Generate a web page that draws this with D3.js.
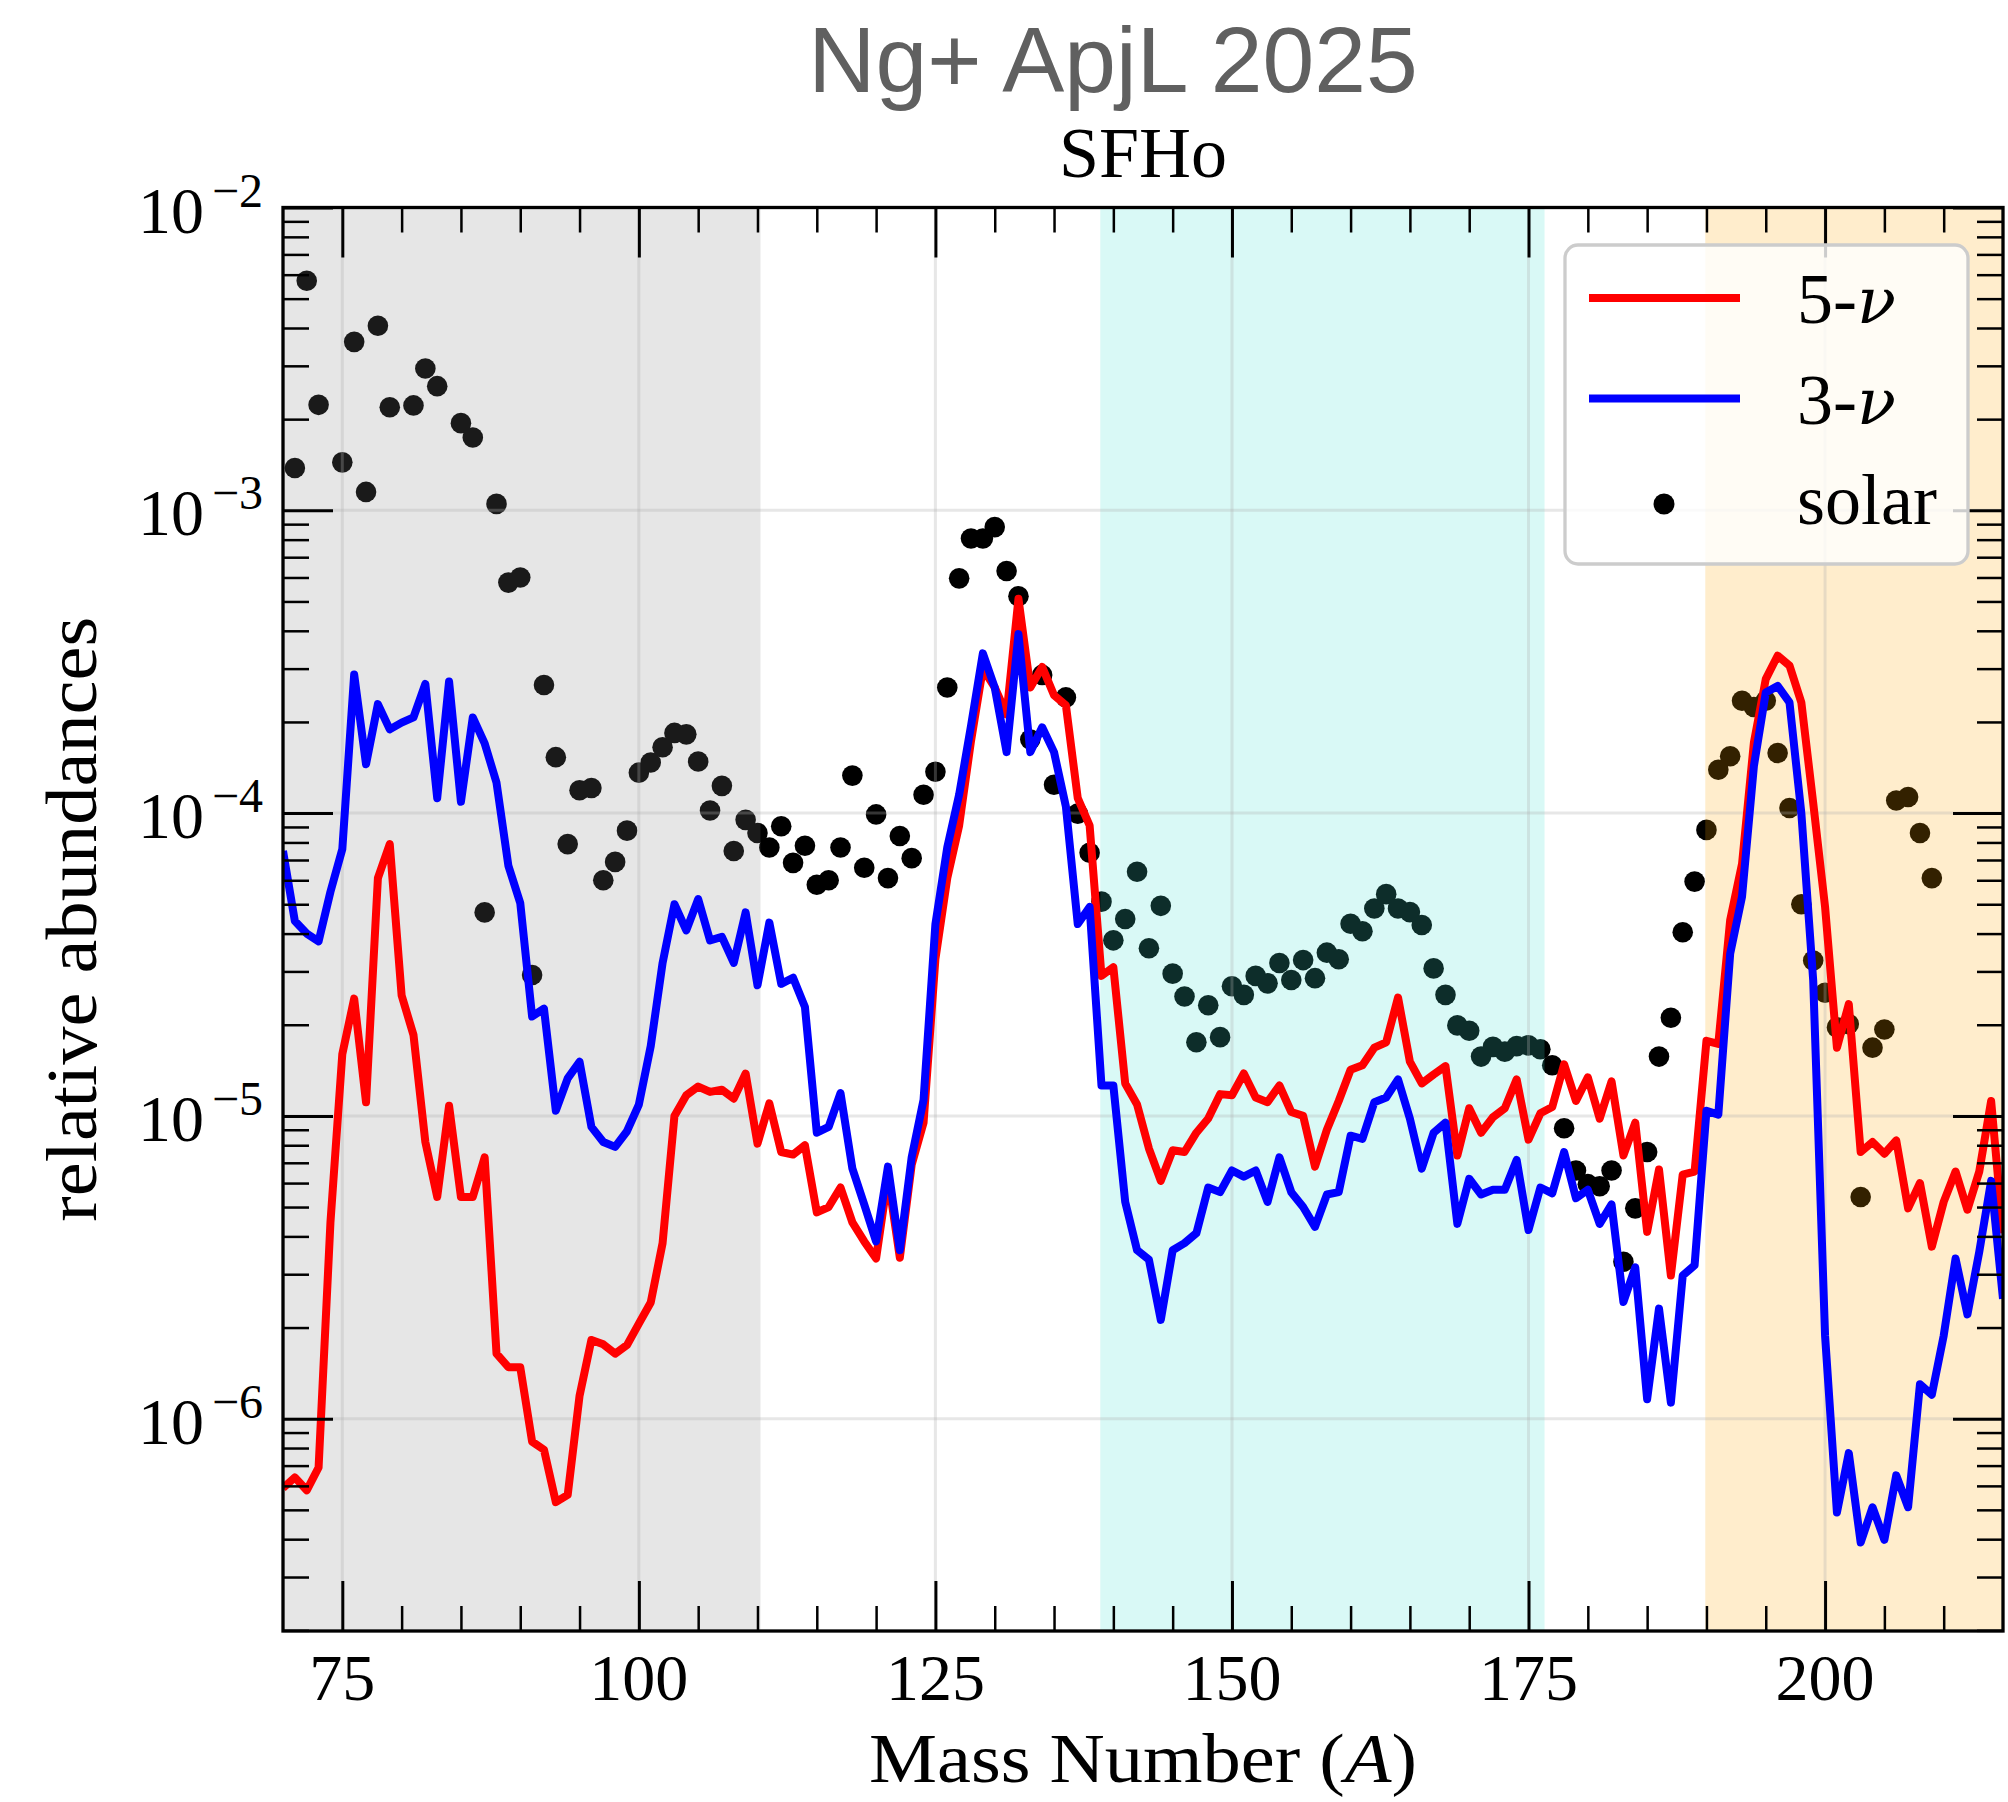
<!DOCTYPE html>
<html>
<head>
<meta charset="utf-8">
<script src="https://cdn.jsdelivr.net/npm/d3@7"></script>
<style>
  html, body { margin: 0; padding: 0; background: #fff; }
  svg text { font-family: "Liberation Serif", "DejaVu Serif", serif; fill: #000; }
</style>
</head>
<body>
<script>
// mass numbers of the two model curves (one point per A)
const massNumbers = d3.range(70, 216);

// 5-nu model, A = 70..215
const fiveNu = [
    5.9e-7, 6.4e-7, 5.8e-7, 6.9e-7, 4.45e-6, 1.60e-5, 2.44e-5, 1.11e-5, 6.1e-5, 7.9e-5,
    2.5e-5, 1.85e-5, 8.2e-6, 5.4e-6, 1.08e-5, 5.4e-6, 5.4e-6, 7.3e-6, 1.64e-6, 1.48e-6,
    1.48e-6, 8.4e-7, 7.9e-7, 5.3e-7, 5.6e-7, 1.19e-6, 1.82e-6, 1.76e-6, 1.64e-6, 1.75e-6,
    2.06e-6, 2.42e-6, 3.8e-6, 1.0e-5, 1.17e-5, 1.25e-5, 1.20e-5, 1.22e-5, 1.14e-5, 1.38e-5,
    8.1e-6, 1.10e-5, 7.6e-6, 7.45e-6, 8.0e-6, 4.8e-6, 5.0e-6, 5.8e-6, 4.45e-6, 3.85e-6,
    3.38e-6, 6.3e-6, 3.4e-6, 6.9e-6, 9.5e-6, 3.3e-5, 6.1e-5, 9.1e-5, 1.73e-4, 3.0e-4,
    2.6e-4, 2.12e-4, 5.1e-4, 2.6e-4, 3.04e-4, 2.45e-4, 2.27e-4, 1.12e-4, 9.1e-5, 2.9e-5,
    3.1e-5, 1.28e-5, 1.09e-5, 7.8e-6, 6.1e-6, 7.7e-6, 7.6e-6, 8.8e-6, 9.8e-6, 1.18e-5,
    1.17e-5, 1.38e-5, 1.15e-5, 1.11e-5, 1.26e-5, 1.03e-5, 1.0e-5, 6.8e-6, 9.0e-6, 1.12e-5,
    1.42e-5, 1.47e-5, 1.68e-5, 1.75e-5, 2.46e-5, 1.51e-5, 1.28e-5, 1.37e-5, 1.46e-5, 7.4e-6,
    1.06e-5, 8.8e-6, 9.9e-6, 1.06e-5, 1.32e-5, 8.35e-6, 1.02e-5, 1.07e-5, 1.48e-5, 1.12e-5,
    1.34e-5, 9.8e-6, 1.30e-5, 7.4e-6, 9.5e-6, 4.14e-6, 6.65e-6, 2.97e-6, 6.4e-6, 6.55e-6,
    1.77e-5, 1.73e-5, 4.43e-5, 6.8e-5, 1.71e-4, 2.77e-4, 3.31e-4, 3.07e-4, 2.32e-4, 1.08e-4,
    4.9e-5, 1.68e-5, 2.34e-5, 7.6e-6, 8.2e-6, 7.5e-6, 8.3e-6, 4.95e-6, 6.0e-6, 3.7e-6,
    5.2e-6, 6.55e-6, 4.9e-6, 6.55e-6, 1.12e-5, 4.1e-6
];

// 3-nu model, A = 70..215
const threeNu = [
    7.5e-5, 4.4e-5, 4.0e-5, 3.77e-5, 5.5e-5, 7.6e-5, 2.87e-4, 1.45e-4, 2.29e-4, 1.89e-4,
    1.99e-4, 2.07e-4, 2.67e-4, 1.12e-4, 2.72e-4, 1.09e-4, 2.07e-4, 1.70e-4, 1.26e-4, 6.7e-5,
    5.05e-5, 2.13e-5, 2.26e-5, 1.04e-5, 1.33e-5, 1.51e-5, 9.2e-6, 8.2e-6, 7.9e-6, 8.9e-6,
    1.09e-5, 1.70e-5, 3.2e-5, 5.0e-5, 4.1e-5, 5.2e-5, 3.8e-5, 3.9e-5, 3.2e-5, 4.7e-5,
    2.7e-5, 4.35e-5, 2.73e-5, 2.86e-5, 2.29e-5, 8.8e-6, 9.2e-6, 1.19e-5, 6.7e-6, 5.1e-6,
    3.85e-6, 6.8e-6, 3.6e-6, 7.3e-6, 1.13e-5, 4.3e-5, 7.7e-5, 1.15e-4, 1.94e-4, 3.37e-4,
    2.6e-4, 1.59e-4, 3.9e-4, 1.59e-4, 1.92e-4, 1.59e-4, 1.05e-4, 4.3e-5, 4.9e-5, 1.26e-5,
    1.26e-5, 5.2e-6, 3.6e-6, 3.35e-6, 2.12e-6, 3.6e-6, 3.8e-6, 4.1e-6, 5.8e-6, 5.6e-6,
    6.6e-6, 6.3e-6, 6.6e-6, 5.2e-6, 7.3e-6, 5.6e-6, 5.0e-6, 4.3e-6, 5.5e-6, 5.6e-6,
    8.6e-6, 8.4e-6, 1.11e-5, 1.15e-5, 1.32e-5, 9.8e-6, 6.7e-6, 8.8e-6, 9.5e-6, 4.4e-6,
    6.2e-6, 5.5e-6, 5.7e-6, 5.7e-6, 7.15e-6, 4.2e-6, 5.8e-6, 5.55e-6, 7.6e-6, 5.35e-6,
    5.7e-6, 4.4e-6, 5.1e-6, 2.43e-6, 3.16e-6, 1.16e-6, 2.31e-6, 1.13e-6, 2.97e-6, 3.21e-6,
    1.04e-5, 1.01e-5, 3.43e-5, 5.3e-5, 1.43e-4, 2.50e-4, 2.63e-4, 2.32e-4, 1.0e-4, 2.8e-5,
    1.88e-6, 4.9e-7, 7.7e-7, 3.9e-7, 5.1e-7, 3.98e-7, 6.5e-7, 5.1e-7, 1.30e-6, 1.20e-6,
    1.88e-6, 3.38e-6, 2.21e-6, 3.56e-6, 6.1e-6, 2.49e-6
];

// solar r-process abundances (not every A has a point)
const solarA = [71, 72, 73, 75, 76, 77, 78, 79, 81, 82, 83].concat(d3.range(85, 210));
const solarValues = [
    1.38e-3, 5.73e-3, 2.23e-3, 1.44e-3, 3.6e-3, 1.15e-3, 4.07e-3, 2.19e-3, 2.22e-3, 2.94e-3, 2.57e-3,
    1.94e-3, 1.74e-3, 4.7e-5, 1.05e-3, 5.77e-4, 6.0e-4, 2.92e-5, 2.65e-4, 1.53e-4, 7.9e-5,
    1.19e-4, 1.21e-4, 6.0e-5, 6.9e-5, 8.75e-5, 1.36e-4, 1.47e-4, 1.65e-4, 1.84e-4, 1.82e-4,
    1.48e-4, 1.02e-4, 1.23e-4, 7.5e-5, 9.5e-5, 8.6e-5, 7.7e-5, 9.05e-5, 6.85e-5, 7.8e-5,
    5.8e-5, 6.0e-5, 7.7e-5, 1.33e-4, 6.6e-5, 9.9e-5, 6.1e-5, 8.4e-5, 7.1e-5, 1.15e-4,
    1.37e-4, 2.6e-4, 5.96e-4, 8.07e-4, 8.07e-4, 8.8e-4, 6.3e-4, 5.2e-4, 1.75e-4, 2.86e-4,
    1.24e-4, 2.41e-4, 9.96e-5, 7.4e-5, 5.1e-5, 3.8e-5, 4.47e-5, 6.4e-5, 3.58e-5, 4.94e-5,
    2.95e-5, 2.48e-5, 1.75e-5, 2.32e-5, 1.82e-5, 2.68e-5, 2.51e-5, 2.9e-5, 2.74e-5, 3.2e-5,
    2.81e-5, 3.27e-5, 2.85e-5, 3.46e-5, 3.29e-5, 4.31e-5, 4.07e-5, 4.84e-5, 5.4e-5, 4.84e-5,
    4.71e-5, 4.27e-5, 3.07e-5, 2.51e-5, 1.99e-5, 1.91e-5, 1.57e-5, 1.69e-5, 1.63e-5, 1.70e-5,
    1.71e-5, 1.66e-5, 1.47e-5, 9.1e-6, 6.6e-6, 5.95e-6, 5.86e-6, 6.6e-6, 3.3e-6, 4.95e-6,
    7.6e-6, 1.57e-5, 2.11e-5, 4.04e-5, 5.94e-5, 8.8e-5, 1.39e-4, 1.54e-4, 2.35e-4, 2.24e-4,
    2.35e-4, 1.58e-4, 1.04e-4, 5.0e-5, 3.26e-5, 2.55e-5, 1.96e-5, 2.01e-5, 5.4e-6, 1.68e-5,
    1.93e-5, 1.10e-4, 1.13e-4, 8.6e-5, 6.1e-5
];

// shaded mass ranges
const regionStart = [70, 138.9, 189.9];
const regionEnd = [110.25, 176.35, 215];

const xTicks = [75, 100, 125, 150, 175, 200];
const yTicks = [1e-6, 1e-5, 1e-4, 1e-3, 1e-2];
const yTickExponents = ['\u22126', '\u22125', '\u22124', '\u22123', '\u22122'];

const legendLabels = ['5-', '3-', 'solar'];

const width = 2008;
const height = 1802;
const plot = {left: 283, right: 2003, top: 207.5, bottom: 1631};

const regionColors = ['#808080', '#40e0d0', '#ffa500'];
const lineWidth = 8;

const svg = d3.select('body').append('svg')
    .attr('width', width)
    .attr('height', height)
    .style('display', 'block');

svg.append('rect').attr('width', width).attr('height', height).attr('fill', '#fff');

const x = d3.scaleLinear()
    .domain([70, 215])
    .range([plot.left, plot.right]);

const y = d3.scaleLog()
    .domain([1.99e-7, 1e-2])
    .range([plot.bottom, plot.top]);

svg.append('clipPath').attr('id', 'plot-clip')
  .append('rect')
    .attr('x', plot.left).attr('y', plot.top)
    .attr('width', plot.right - plot.left)
    .attr('height', plot.bottom - plot.top);

const inner = svg.append('g').attr('clip-path', 'url(#plot-clip)');

// solar dots sit under the shaded spans
inner.append('g')
    .selectAll('circle')
    .data(solarA)
    .join('circle')
        .attr('cx', d => x(d))
        .attr('cy', (d, i) => y(solarValues[i]))
        .attr('r', 10.3)
        .attr('fill', '#000');

inner.append('g')
    .selectAll('rect')
    .data(regionStart)
    .join('rect')
        .attr('x', d => x(d))
        .attr('y', plot.top)
        .attr('width', (d, i) => x(regionEnd[i]) - x(d))
        .attr('height', plot.bottom - plot.top)
        .attr('fill', (d, i) => regionColors[i])
        .attr('fill-opacity', 0.2);

// grid at the major ticks
const grid = inner.append('g')
    .attr('stroke', '#b0b0b0')
    .attr('stroke-opacity', 0.3)
    .attr('stroke-width', 3);
grid.selectAll('.gx').data(xTicks).join('line').attr('class', 'gx')
    .attr('x1', d => x(d)).attr('x2', d => x(d))
    .attr('y1', plot.top).attr('y2', plot.bottom);
grid.selectAll('.gy').data(yTicks.slice(0, -1)).join('line').attr('class', 'gy')
    .attr('x1', plot.left).attr('x2', plot.right)
    .attr('y1', d => y(d)).attr('y2', d => y(d));

const line = d3.line()
    .x((d, i) => x(massNumbers[i]))
    .y(d => y(d));

inner.append('path')
    .datum(fiveNu)
    .attr('d', line)
    .attr('fill', 'none')
    .attr('stroke', '#ff0000')
    .attr('stroke-width', lineWidth)
    .attr('stroke-linejoin', 'round');

inner.append('path')
    .datum(threeNu)
    .attr('d', line)
    .attr('fill', 'none')
    .attr('stroke', '#0000ff')
    .attr('stroke-width', lineWidth)
    .attr('stroke-linejoin', 'round');

// ticks, inward on all four sides
const xMinor = d3.range(75, 215, 5).filter(v => v % 25 !== 0);
const yMinor = [];
for (let k = -7; k <= -3; k++) {
    for (let m = 2; m <= 9; m++) {
        const v = m * Math.pow(10, k);
        if (v > y.domain()[0] && v < y.domain()[1]) yMinor.push(v);
    }
}

function styleAxis(g, w) {
    g.attr('color', '#000');
    g.select('.domain').remove();
    g.selectAll('.tick line').attr('stroke-width', w);
    g.selectAll('.tick text').remove();
}

svg.append('g').attr('transform', `translate(0,${plot.bottom})`)
    .call(d3.axisBottom(x).tickValues(xTicks).tickSize(-50)).call(g => styleAxis(g, 3));
svg.append('g').attr('transform', `translate(0,${plot.bottom})`)
    .call(d3.axisBottom(x).tickValues(xMinor).tickSize(-25)).call(g => styleAxis(g, 2.5));
svg.append('g').attr('transform', `translate(0,${plot.top})`)
    .call(d3.axisTop(x).tickValues(xTicks).tickSize(-50)).call(g => styleAxis(g, 3));
svg.append('g').attr('transform', `translate(0,${plot.top})`)
    .call(d3.axisTop(x).tickValues(xMinor).tickSize(-25)).call(g => styleAxis(g, 2.5));
svg.append('g').attr('transform', `translate(${plot.left},0)`)
    .call(d3.axisLeft(y).tickValues(yTicks).tickSize(-50)).call(g => styleAxis(g, 3));
svg.append('g').attr('transform', `translate(${plot.left},0)`)
    .call(d3.axisLeft(y).tickValues(yMinor).tickSize(-26)).call(g => styleAxis(g, 2.5));
svg.append('g').attr('transform', `translate(${plot.right},0)`)
    .call(d3.axisRight(y).tickValues(yTicks).tickSize(-50)).call(g => styleAxis(g, 3));
svg.append('g').attr('transform', `translate(${plot.right},0)`)
    .call(d3.axisRight(y).tickValues(yMinor).tickSize(-26)).call(g => styleAxis(g, 2.5));

// frame
svg.append('rect')
    .attr('x', plot.left).attr('y', plot.top)
    .attr('width', plot.right - plot.left)
    .attr('height', plot.bottom - plot.top)
    .attr('fill', 'none')
    .attr('stroke', '#000')
    .attr('stroke-width', 3.3);

// tick labels
svg.append('g')
    .selectAll('text')
    .data(xTicks)
    .join('text')
        .attr('x', d => x(d))
        .attr('y', 1700)
        .attr('text-anchor', 'middle')
        .attr('font-size', 66)
        .text(d => d);

svg.append('g')
    .selectAll('text')
    .data(yTicks)
    .join('text')
        .attr('x', 263)
        .attr('y', d => y(d) + 25)
        .attr('text-anchor', 'end')
        .attr('font-size', 66)
        .each(function(d, i) {
            const t = d3.select(this);
            t.append('tspan').text('10');
            t.append('tspan').attr('dx', 8).attr('dy', -26).attr('font-size', 48).text(yTickExponents[i]);
        });

// axis titles
svg.append('text')
    .attr('x', (plot.left + plot.right) / 2)
    .attr('y', 1782)
    .attr('text-anchor', 'middle')
    .attr('font-size', 70)
    .attr('textLength', 548)
    .attr('lengthAdjust', 'spacingAndGlyphs')
    .call(t => {
        t.append('tspan').text('Mass Number (');
        t.append('tspan').attr('font-style', 'italic').text('A');
        t.append('tspan').text(')');
    });

svg.append('text')
    .attr('transform', `translate(96,${(plot.top + plot.bottom) / 2}) rotate(-90)`)
    .attr('text-anchor', 'middle')
    .attr('font-size', 72)
    .attr('textLength', 605)
    .attr('lengthAdjust', 'spacingAndGlyphs')
    .text('relative abundances');

svg.append('text')
    .attr('x', (plot.left + plot.right) / 2)
    .attr('y', 177)
    .attr('text-anchor', 'middle')
    .attr('font-size', 72)
    .text('SFHo');

svg.append('text')
    .attr('x', 1113)
    .attr('y', 92)
    .attr('text-anchor', 'middle')
    .attr('font-size', 93)
    .style('font-family', '"Liberation Sans", Arial, sans-serif')
    .style('fill', '#606060')
    .text('Ng+ ApjL 2025');

// legend
const legend = svg.append('g');
legend.append('rect')
    .attr('x', 1565).attr('y', 245)
    .attr('width', 403).attr('height', 319)
    .attr('rx', 13)
    .attr('fill', '#fff').attr('fill-opacity', 0.8)
    .attr('stroke', '#cccccc').attr('stroke-width', 3.3);

const legendColors = ['#ff0000', '#0000ff'];
legend.selectAll('.entry-line')
    .data(legendColors)
    .join('line')
        .attr('class', 'entry-line')
        .attr('x1', 1589).attr('x2', 1740)
        .attr('y1', (d, i) => 298 + i * 100.5)
        .attr('y2', (d, i) => 298 + i * 100.5)
        .attr('stroke', d => d)
        .attr('stroke-width', lineWidth);

legend.append('circle')
    .attr('cx', 1664).attr('cy', 504)
    .attr('r', 10.5)
    .attr('fill', '#000');

legend.selectAll('.entry-text')
    .data(legendLabels)
    .join('text')
        .attr('class', 'entry-text')
        .attr('x', 1797)
        .attr('y', (d, i) => 323 + i * 100.5)
        .attr('font-size', 72)
        .each(function(d, i) {
            const t = d3.select(this);
            t.append('tspan').text(d);
            if (i < 2) {
                t.append('tspan')
                    .attr('font-style', 'italic')
                    .style('font-family', '"DejaVu Serif", serif')
                    .attr('font-size', 64)
                    .text('\u03bd');
            }
        });
</script>
</body>
</html>
